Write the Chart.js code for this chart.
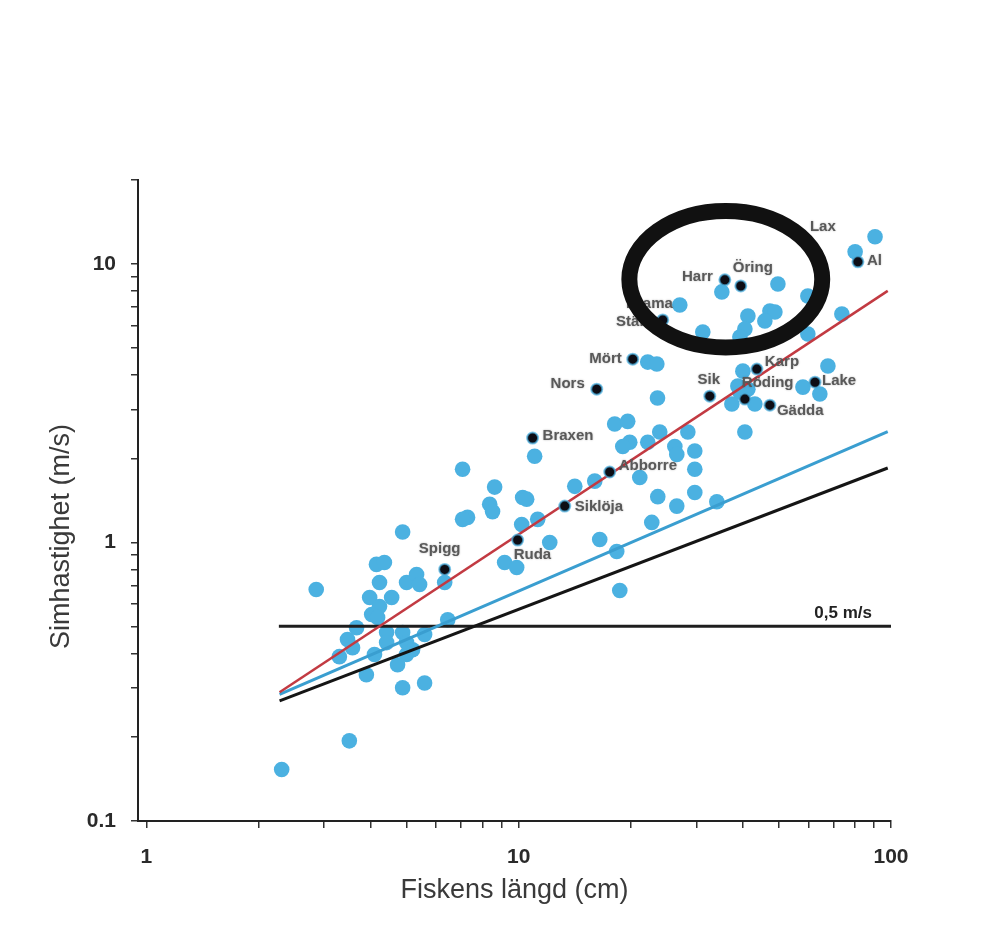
<!DOCTYPE html>
<html>
<head>
<meta charset="utf-8">
<script src="https://cdn.jsdelivr.net/npm/chart.js@4.4.1/dist/chart.umd.min.js"></script>
<style>
  html, body { margin: 0; background: #fff; }
  #wrap { width: 987px; height: 934px; }
</style>
</head>
<body>
<div id="wrap"><canvas id="fishChart"></canvas></div>
<script>
// fish length (cm) and swimming speed (m/s)
const lengthCm = [2.31, 2.86, 3.51, 4.15, 4.36, 4.23, 3.98, 4.56, 4.23, 4.03, 4.18, 5.00, 5.32, 5.42, 6.33,
  3.67, 3.47, 3.58, 3.30, 4.42, 4.42, 4.10, 4.88, 5.00, 5.19, 5.00, 5.59, 6.45, 4.73, 3.90, 4.88, 5.59, 4.88,
  7.07, 8.62, 10.25, 10.51, 8.36, 8.51, 7.29, 7.07, 10.19, 11.25, 11.04, 14.15, 16.01, 12.12, 9.17, 9.88,
  16.51, 18.34, 18.69, 22.78, 23.64, 26.59, 29.72, 34.06, 21.15, 29.72, 29.72, 26.27, 26.59, 22.22, 19.88,
  19.04, 23.93, 28.47, 18.11, 19.63, 23.6, 22.22, 23.50,
  35.13, 49.69, 59.8, 27.09, 41.27, 47.29, 48.78, 45.84, 73.8, 31.23, 40.51, 39.28, 59.8, 40.01, 67.7,
  38.79, 41.27, 39.28, 37.38, 43.09, 58.0, 64.4, 40.51, 90.6, 80.1];
const speedMs = [0.153, 0.678, 0.194, 0.834, 0.847, 0.718, 0.634, 0.634, 0.589, 0.551, 0.538, 0.718, 0.767, 0.706, 0.718,
  0.494, 0.448, 0.419, 0.389, 0.475, 0.437, 0.396, 0.475, 0.437, 0.412, 0.396, 0.467, 0.528, 0.364, 0.335, 0.301, 0.313, 1.09,
  1.83, 1.58, 1.45, 1.43, 1.37, 1.29, 1.23, 1.21, 1.16, 1.21, 2.04, 1.59, 1.66, 1.00, 0.847, 0.813,
  1.025, 0.928, 0.672, 1.18, 1.46, 1.35, 1.51, 1.40, 1.71, 1.83, 2.13, 2.21, 2.07, 2.29, 2.29,
  2.21, 2.49, 2.49, 2.66, 2.72, 3.3, 4.44, 4.37,
  7.93, 8.47, 7.67, 7.12, 6.50, 6.77, 6.72, 6.24, 6.61, 5.69, 5.84, 5.46, 5.60, 4.12, 4.30,
  3.64, 3.55, 3.46, 3.14, 3.14, 3.61, 3.41, 2.49, 12.51, 11.05];

// named species
const speciesNames = ['Spigg', 'Ruda', 'Siklöja', 'Abborre', 'Braxen', 'Nors', 'Mört', 'Stäm', 'Brama',
  'Harr', 'Öring', 'Lax', 'Al', 'Karp', 'Sik', 'Röding', 'Gädda', 'Lake'];
const speciesLength = [6.33, 9.94, 13.30, 17.56, 10.90, 16.21, 20.25, 24.38, 27.09,
  35.79, 39.5, 55.2, 81.5, 43.63, 32.61, 40.51, 47.29, 62.5];
const speciesSpeed = [0.80, 1.02, 1.35, 1.79, 2.37, 3.55, 4.55, 6.29, 7.12,
  8.76, 8.33, 12.5, 10.17, 4.19, 3.35, 3.27, 3.11, 3.76];
const speciesNoDot = ['Brama', 'Lax'];

// fitted lines (end points) and the 0.5 m/s reference
const lineLength = [2.28, 98];
const redSpeed = [0.29, 8.0];
const blueSpeed = [0.285, 2.5];
const blackSpeed = [0.27, 1.85];
const limitLength = [2.27, 100];
const limitSpeed = [0.5, 0.5];
const limitLabel = '0,5 m/s';

// highlight ring: centre (cm, m/s) and half size in decades
const ringCenter = [36.0, 8.8];
const ringHalf = [0.259, 0.245];

const xTickValues = [1, 2, 3, 4, 5, 6, 7, 8, 9, 10, 20, 30, 40, 50, 60, 70, 80, 90, 100];
const xTickLabels = { 1: '1', 10: '10', 100: '100' };
const yTickValues = [0.1, 0.2, 0.3, 0.4, 0.5, 0.6, 0.7, 0.8, 0.9, 1, 2, 3, 4, 5, 6, 7, 8, 9, 10, 20];
const yTickLabels = { 0.1: '0.1', 1: '1', 10: '10' };

const xTitle = 'Fiskens längd (cm)';
const yTitle = 'Simhastighet (m/s)';

// label placement: dx, dy from the dot, text alignment
const labelPos = {
  'Spigg': [-5, -21, 'center'], 'Ruda': [-4, 15, 'left'], 'Siklöja': [10, 1, 'left'],
  'Abborre': [9, -6, 'left'], 'Braxen': [10, -2, 'left'], 'Nors': [-12, -5, 'right'],
  'Mört': [-11, 0, 'right'], 'Stäm': [-10, 2, 'right'], 'Brama': [-7, -1, 'right'],
  'Harr': [-12, -3, 'right'], 'Öring': [-8, -18, 'left'], 'Lax': [15, -10, 'left'],
  'Al': [9, -1, 'left'], 'Karp': [8, -7, 'left'], 'Sik': [-1, -16, 'center'],
  'Röding': [-3, -16, 'left'], 'Gädda': [7, 6, 'left'], 'Lake': [7, -1, 'left']
};

const pts = (xs, ys) => xs.map((x, i) => ({ x: x, y: ys[i] }));

const overlayPlugin = {
  id: 'overlay',
  afterDatasetsDraw(chart) {
    const ctx = chart.ctx;
    const xs = chart.scales.x, ys = chart.scales.y;
    ctx.save();
    // species names
    ctx.font = 'bold 15px "Liberation Sans", Arial, sans-serif';
    ctx.textBaseline = 'middle';
    ctx.fillStyle = '#595959';
    ctx.shadowColor = 'rgba(0,0,0,0.3)';
    ctx.shadowBlur = 2;
    speciesNames.forEach((name, i) => {
      const p = labelPos[name];
      ctx.textAlign = p[2];
      ctx.fillText(name, xs.getPixelForValue(speciesLength[i]) + p[0], ys.getPixelForValue(speciesSpeed[i]) + p[1]);
    });
    ctx.shadowBlur = 0;
    // 0.5 m/s text
    ctx.font = 'bold 17px "Liberation Sans", Arial, sans-serif';
    ctx.fillStyle = '#222';
    ctx.textAlign = 'right';
    ctx.fillText(limitLabel, xs.getPixelForValue(limitLength[1]) - 19, ys.getPixelForValue(limitSpeed[1]) - 13);
    // ring
    const cx = xs.getPixelForValue(ringCenter[0]);
    const cy = ys.getPixelForValue(ringCenter[1]);
    const rx = xs.getPixelForValue(ringCenter[0] * Math.pow(10, ringHalf[0])) - cx;
    const ry = cy - ys.getPixelForValue(ringCenter[1] * Math.pow(10, ringHalf[1]));
    ctx.beginPath();
    ctx.ellipse(cx, cy, rx, ry, 0, 0, Math.PI * 2);
    ctx.lineWidth = 16;
    ctx.strokeStyle = '#111';
    ctx.stroke();
    ctx.restore();
  },
  afterDraw(chart) {
    // y title sits a little below the axis middle in the original
    const ctx = chart.ctx;
    ctx.save();
    ctx.translate(62, chart.scales.y.getPixelForValue(1.05));
    ctx.rotate(-Math.PI / 2);
    ctx.font = '27px "Liberation Sans", Arial, sans-serif';
    ctx.fillStyle = '#3a3a3a';
    ctx.textAlign = 'center';
    ctx.textBaseline = 'middle';
    ctx.fillText(yTitle, 0, 0);
    ctx.restore();
  }
};

const tickFont = { family: '"Liberation Sans", Arial, sans-serif', size: 21, weight: 'bold' };
const titleFont = { family: '"Liberation Sans", Arial, sans-serif', size: 27 };

const lineSet = (ys, color, width, order) => ({
  type: 'line', data: pts(lineLength, ys), borderColor: color, borderWidth: width,
  pointRadius: 0, fill: false, order: order
});

new Chart(document.getElementById('fishChart'), {
  type: 'scatter',
  data: {
    datasets: [
      { data: pts(lengthCm, speedMs), backgroundColor: '#4bb1e1', borderWidth: 0, pointRadius: 7.8, order: 5 },
      lineSet(redSpeed, '#c23a42', 2.5, 3),
      lineSet(blueSpeed, '#3a9ed0', 3, 3),
      lineSet(blackSpeed, '#151515', 3, 3),
      { type: 'line', data: pts(limitLength, limitSpeed), borderColor: '#1e1e1e', borderWidth: 3, pointRadius: 0, order: 4 },
      {
        data: pts(speciesLength, speciesSpeed).filter((p, i) => !speciesNoDot.includes(speciesNames[i])),
        backgroundColor: '#0d0d15', borderColor: 'rgba(75,177,225,0.7)', borderWidth: 2, pointRadius: 5.5, order: 1
      }
    ]
  },
  options: {
    responsive: true,
    maintainAspectRatio: false,
    animation: false,
    layout: { padding: { top: 180, right: 96, left: 45, bottom: 23 } },
    plugins: { legend: { display: false }, tooltip: { enabled: false } },
    scales: {
      x: {
        type: 'logarithmic',
        min: 0.95,
        max: 100,
        afterBuildTicks: (scale) => { scale.ticks = xTickValues.map(v => ({ value: v })); },
        afterFit: (scale) => { scale.height = 90; },
        ticks: {
          autoSkip: false, maxRotation: 0, padding: 17, color: '#2a2a2a', font: tickFont,
          callback: (v) => xTickLabels[v] || ''
        },
        grid: { drawOnChartArea: false, drawTicks: true, tickLength: 7, color: '#333', lineWidth: 1.5 },
        border: { display: true, color: '#222', width: 2 },
        title: { display: true, text: xTitle, color: '#3a3a3a', font: titleFont }
      },
      y: {
        type: 'logarithmic',
        min: 0.1,
        max: 20,
        afterBuildTicks: (scale) => { scale.ticks = yTickValues.map(v => ({ value: v })); },
        afterFit: (scale) => { scale.width = 93; },
        ticks: {
          autoSkip: false, padding: 15, color: '#2a2a2a', font: tickFont,
          callback: (v) => yTickLabels[v] || ''
        },
        grid: { drawOnChartArea: false, drawTicks: true, tickLength: 7, color: '#333', lineWidth: 1.5 },
        border: { display: true, color: '#222', width: 2 },
        title: { display: false }
      }
    }
  },
  plugins: [overlayPlugin]
});
</script>
</body>
</html>
